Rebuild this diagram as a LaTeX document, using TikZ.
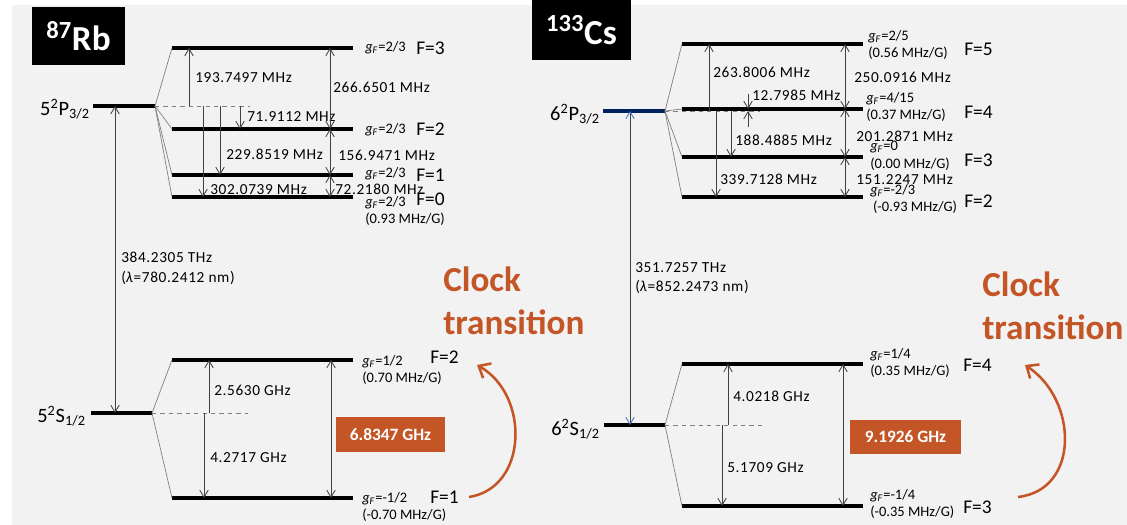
\documentclass[tikz,border=0pt]{standalone}
\usepackage{fontspec}
\setmainfont{Carlito}
\newfontfamily\valfont[LetterSpace=4]{Carlito}
\usetikzlibrary{arrows.meta}
\definecolor{bggray}{RGB}{242,242,242}
\definecolor{clkorange}{RGB}{196,85,38}
\definecolor{csnavy}{RGB}{0,32,96}
\definecolor{csblue}{RGB}{68,114,196}
\newcommand{\gF}[1]{\textit{g}\textsubscript{\textit{F}}=#1}

\begin{document}
\begin{tikzpicture}[x=0.025cm,y=-0.025cm,
    lvl/.style={line width=2.4pt},
    fan/.style={gray,line width=0.5pt},
    ext/.style={gray,dashed,line width=0.5pt},
    arr/.style={black!75,line width=0.6pt,-{Straight Barb[length=5pt,width=6pt]}},
    darr/.style={black!75,line width=0.6pt,
      {Straight Barb[length=5pt,width=6pt]}-{Straight Barb[length=5pt,width=6pt]}},
    lab/.style={anchor=west,inner sep=0pt,align=left,
      font=\fontsize{10.3}{12.6}\selectfont},
    val/.style={anchor=west,inner sep=0pt,align=left,
      font=\valfont\fontsize{10.9}{14}\selectfont},
    flab/.style={anchor=west,inner sep=0pt,font=\fontsize{13.8}{15}\selectfont},
    term/.style={anchor=east,inner sep=0pt,font=\fontsize{14.5}{16}\selectfont},
    atom/.style={fill=black,text=white,inner sep=0pt,
      font=\bfseries\fontsize{25}{28}\selectfont},
    clk/.style={anchor=west,inner sep=0pt,align=left,text=clkorange,
      font=\bfseries\fontsize{25}{30.5}\selectfont},
    ghz/.style={fill=clkorange,text=white,inner sep=0pt,minimum height=0.86cm,
      font=\bfseries\fontsize{12.3}{14}\selectfont},
    clkarr/.style={clkorange,line width=1.8pt,
      -{Straight Barb[length=7pt,width=12pt]}}]
  \useasboundingbox (0,0) rectangle (1127,525);
  \fill[bggray] (12,5) rectangle (1127,525);

  % ---- 87Rb ----
  \node[atom,minimum width=2.325cm,minimum height=1.45cm] (rb) at (78.5,36)
    {\textsuperscript{87}Rb};

  % excited state 5P3/2
  \draw[lvl] (93,106) coordinate (rbP) -- (155,106) coordinate (rbPo);
  \node[term] (rbPlab) at (90,109) {5\textsuperscript{2}P\textsubscript{3/2}};
  \draw[ext] (rbPo) -- (250,106);
  \foreach \f/\y in {3/48,2/129,1/175,0/197}{
    \draw[lvl] (172,\y) coordinate (rbF\f) -- (353,\y);
    \draw[fan] (rbPo) -- (rbF\f);
  }
  \draw[arr] (189,0 |- rbP) -- (189,0 |- rbF3);
  \node[val] (rb193) at (195,78) {193.7497 MHz};
  \draw[arr] (240,0 |- rbP) -- (240,0 |- rbF2);
  \node[val] (rb71) at (247,117) {71.9112 MHz};
  \draw[arr] (220,0 |- rbP) -- (220,0 |- rbF1);
  \node[val] (rb229) at (226,154) {229.8519 MHz};
  \draw[arr] (203,0 |- rbP) -- (203,0 |- rbF0);
  \node[val] (rb302) at (210,190) {302.0739 MHz};
  \draw[darr] (330,0 |- rbF3) -- (330,0 |- rbF2);
  \node[val] (rb266) at (333,87) {266.6501 MHz};
  \draw[darr] (330,0 |- rbF2) -- (330,0 |- rbF1);
  \node[val] (rb156) at (338,155) {156.9471 MHz};
  \draw[darr] (330,0 |- rbF1) -- (330,0 |- rbF0);
  \node[val] (rb72) at (335,189) {72.2180 MHz};
  \node[lab] (rbg3) at (365,48) {\gF{2/3}};
  \node[lab] (rbg2) at (365,130) {\gF{2/3}};
  \node[lab] (rbg1) at (365,174) {\gF{2/3}};
  \node[lab] (rbg0) at (365,211) {\gF{2/3}\\(0.93 MHz/G)};
  \node[flab] (rbF3lab) at (416,48) {F=3};
  \node[flab] (rbF2lab) at (416,129) {F=2};
  \node[flab] (rbF1lab) at (416,175) {F=1};
  \node[flab] (rbF0lab) at (416,199) {F=0};

  % ground state 5S1/2
  \draw[lvl] (91,413) coordinate (rbS) -- (152,413) coordinate (rbSo);
  \node[term] (rbSlab) at (86,416) {5\textsuperscript{2}S\textsubscript{1/2}};
  \draw[ext] (rbSo) -- (248,413);
  \foreach \f/\y in {2/360,1/498}{
    \draw[lvl] (172,\y) coordinate (rbG\f) -- (353,\y);
    \draw[fan] (rbSo) -- (rbG\f);
  }

  % optical transition
  \draw[darr] (115,0 |- rbP) -- (115,0 |- rbS);
  \node[val] (rbopt) at (121,268) {384.2305 THz\\(\textit{λ}=780.2412 nm)};

  \draw[arr] (209,0 |- rbS) -- (209,0 |- rbG2);
  \node[val] (rb256) at (214,390) {2.5630 GHz};
  \draw[arr] (204,0 |- rbS) -- (204,0 |- rbG1);
  \node[val] (rb427) at (210,458) {4.2717 GHz};
  \draw[darr] (331,0 |- rbG2) -- (331,0 |- rbG1);
  \node[ghz,minimum width=2.725cm] (rbclk) at (390.5,434.5) {6.8347 GHz};
  \node[lab] (rbh2) at (362,370) {\gF{1/2}\\(0.70 MHz/G)};
  \node[lab] (rbh1) at (362,507) {\gF{-1/2}\\(-0.70 MHz/G)};
  \node[flab] (rbG2lab) at (430,357) {F=2};
  \node[flab] (rbG1lab) at (430,497) {F=1};
  \node[clk] (rbtxt) at (443,301) {Clock\\transition};
  \coordinate (rbc1) at (469,497);
  \coordinate (rbc2) at (477,365);
  \draw[clkarr] (rbc1) .. controls (528,488) and (530,395) .. (rbc2);

  % ---- 133Cs ----
  \node[atom,minimum width=2.475cm,minimum height=1.5cm] (cs) at (581.5,30)
    {\textsuperscript{133}Cs};

  % excited state 6P3/2
  \draw[lvl,csnavy] (603,111) coordinate (csP) -- (665,111) coordinate (csPo);
  \node[term] (csPlab) at (600,114) {6\textsuperscript{2}P\textsubscript{3/2}};
  \draw[ext] (csPo) -- (760,111);
  \foreach \f/\y in {5/44,4/109,3/157,2/197}{
    \draw[lvl] (682,\y) coordinate (csF\f) -- (863,\y);
    \draw[fan] (csPo) -- (csF\f);
  }
  \draw[arr] (709,0 |- csP) -- (709,0 |- csF5);
  \node[val] (cs263) at (713,72) {263.8006 MHz};
  \draw[arr] (748,94) -- (748,0 |- csF4);
  \draw[arr] (748,127) -- (748,0 |- csP);
  \node[val] (cs12) at (752,95) {12.7985 MHz};
  \draw[arr] (731,0 |- csP) -- (731,0 |- csF3);
  \node[val] (cs188) at (735,140) {188.4885 MHz};
  \draw[arr] (716,0 |- csP) -- (716,0 |- csF2);
  \node[val] (cs339) at (720,179) {339.7128 MHz};
  \draw[darr] (845,0 |- csF5) -- (845,0 |- csF4);
  \node[val] (cs250) at (854,77) {250.0916 MHz};
  \draw[darr] (845,0 |- csF4) -- (845,0 |- csF3);
  \node[val] (cs201) at (856,136) {201.2871 MHz};
  \draw[darr] (845,0 |- csF3) -- (845,0 |- csF2);
  \node[val] (cs151) at (856,180) {151.2247 MHz};
  \node[lab] (csg5) at (868,45) {\gF{2/5}\\(0.56 MHz/G)};
  \node[lab] (csg4) at (866,107) {\gF{4/15}\\(0.37 MHz/G)};
  \node[lab] (csg3) at (870,156) {\gF{0}\\(0.00 MHz/G)};
  \node[lab] (csg2) at (870,199) {\gF{-2/3}\\\hspace*{2pt}(-0.93 MHz/G)};
  \node[flab] (csF5lab) at (964,49) {F=5};
  \node[flab] (csF4lab) at (964,112) {F=4};
  \node[flab] (csF3lab) at (964,160) {F=3};
  \node[flab] (csF2lab) at (964,201) {F=2};

  % ground state 6S1/2
  \draw[lvl] (604,425) coordinate (csS) -- (665,425) coordinate (csSo);
  \node[term] (csSlab) at (600,429) {6\textsuperscript{2}S\textsubscript{1/2}};
  \draw[ext] (csSo) -- (763,425);
  \foreach \f/\y in {4/364,3/506}{
    \draw[lvl] (682,\y) coordinate (csG\f) -- (863,\y);
    \draw[fan] (csSo) -- (csG\f);
  }

  % optical transition
  \draw[black!75,line width=0.6pt,
    {Straight Barb[length=5pt,width=6pt,color=csblue]}-{Straight Barb[length=5pt,width=6pt,color=csblue]}]
    (630,0 |- csP) -- (630,0 |- csS);
  \node[val] (csopt) at (635,278) {351.7257 THz\\(\textit{λ}=852.2473 nm)};

  \draw[arr] (728,0 |- csS) -- (728,0 |- csG4);
  \node[val] (cs402) at (733,396) {4.0218 GHz};
  \draw[arr] (722,0 |- csS) -- (722,0 |- csG3);
  \node[val] (cs517) at (727,468) {5.1709 GHz};
  \draw[darr] (843,0 |- csG4) -- (843,0 |- csG3);
  \node[ghz,minimum width=2.775cm] (csclk) at (905.5,437) {9.1926 GHz};
  \node[lab] (csh4) at (870,363) {\gF{1/4}\\(0.35 MHz/G)};
  \node[lab] (csh3) at (870,504) {\gF{-1/4}\\(-0.35 MHz/G)};
  \node[flab] (csG4lab) at (963,365) {F=4};
  \node[flab] (csG3lab) at (963,507) {F=3};
  \node[clk] (cstxt) at (982,306) {Clock\\transition};
  \coordinate (csc1) at (1018,497);
  \coordinate (csc2) at (1025,365);
  \draw[clkarr] (csc1) .. controls (1080,490) and (1078,400) .. (csc2);
\end{tikzpicture}
\end{document}
